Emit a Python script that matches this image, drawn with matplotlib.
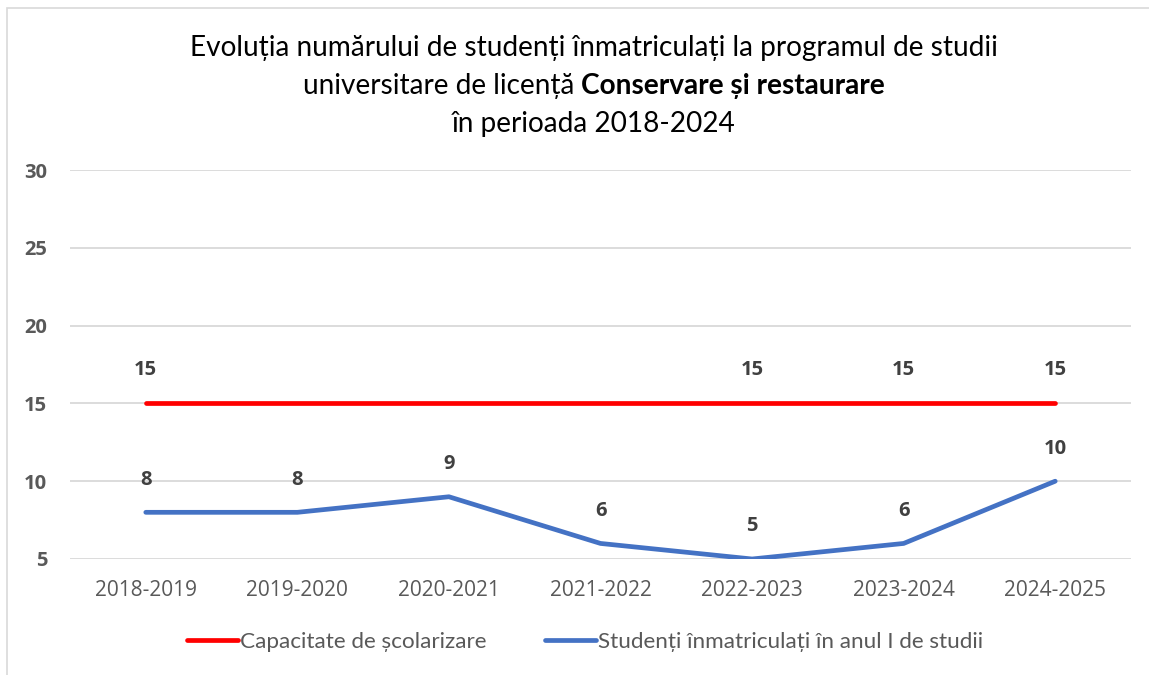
import matplotlib
matplotlib.use("Agg")
import matplotlib.pyplot as plt
from matplotlib.patches import Rectangle
from matplotlib.lines import Line2D

categories = ["2018-2019", "2019-2020", "2020-2021", "2021-2022", "2022-2023", "2023-2024", "2024-2025"]
capacity = [15, 15, 15, 15, 15, 15, 15]
students = [8, 8, 9, 6, 5, 6, 10]
capacity_labels_shown = [True, False, False, False, True, True, True]
series_names = ["Capacitate de școlarizare", "Studenți înmatriculați în anul I de studii"]
title_lines = ["Evoluția numărului de studenți înmatriculați la programul de studii",
               ("universitare de licență ", "Conservare și restaurare"),
               "în perioada 2018-2024"]
yticks = [5, 10, 15, 20, 25, 30]

RED = "#FF0000"
BLUE = "#4472C4"
GRID = "#D9D9D9"
TICK = "#595959"
LABEL = "#404040"

W, H = 1149, 675
fig = plt.figure(figsize=(W / 100, H / 100), dpi=100)
fig.patch.set_facecolor("white")

# chart frame
fig.add_artist(Rectangle((7 / W, -0.1), 1.2, 1 - 8 / H + 0.1, transform=fig.transFigure,
                         fill=False, edgecolor=GRID, linewidth=1.2))

ax = fig.add_axes([70 / W, 1 - 559 / H, 1061 / W, 389 / H])
ax.set_xlim(-0.5, len(categories) - 0.5)
ax.set_ylim(5, 30)
for s in ax.spines.values():
    s.set_visible(False)
ax.set_yticks(yticks)
ax.yaxis.grid(True, color=GRID, linewidth=1.3)
ax.set_axisbelow(True)
ax.tick_params(length=0)
ax.set_xticks(range(len(categories)))
ax.set_xticklabels(categories, fontfamily="Open Sans", fontsize=15, color=TICK)
ax.set_yticklabels([str(v) for v in yticks], fontfamily="Open Sans", fontsize=14.5,
                   fontweight="bold", color=TICK)
ax.tick_params(axis="y", pad=16.5)
ax.tick_params(axis="x", pad=15)

x = list(range(len(categories)))

ax.plot(x, capacity, color=RED, linewidth=3.4, solid_capstyle="round", zorder=3)
ax.plot(x, students, color=BLUE, linewidth=3.4, solid_capstyle="round",
        solid_joinstyle="round", zorder=3)

# data labels
for xi, v, show in zip(x, capacity, capacity_labels_shown):
    if show:
        ax.annotate(str(v), (xi, v), xytext=(0, 24), textcoords="offset points",
                    ha="center", va="center", fontfamily="Open Sans", fontsize=14.5,
                    fontweight="bold", color=LABEL)
for xi, v in zip(x, students):
    ax.annotate(str(v), (xi, v), xytext=(0, 23.5), textcoords="offset points",
                ha="center", va="center", fontfamily="Open Sans", fontsize=14.5,
                fontweight="bold", color=LABEL)

# legend
handles = [Line2D([0], [0], color=RED, linewidth=3.4, solid_capstyle="round"),
           Line2D([0], [0], color=BLUE, linewidth=3.4, solid_capstyle="round")]
leg = fig.legend(handles, series_names, loc="center", bbox_to_anchor=(585 / W, 1 - 642 / H),
                 ncol=2, frameon=False, handlelength=2.25, handletextpad=0.1,
                 columnspacing=2.6, prop={"family": ["Lato", "DejaVu Sans"], "size": 16.2})
for t in leg.get_texts():
    t.set_color(TICK)

# title
tfont = {"family": ["Lato", "DejaVu Sans"], "size": 20.2, "color": "black"}
cx = 594 / W
fig.text(cx, 1 - 48 / H, title_lines[0], ha="center", va="center", **tfont)
fig.text(cx, 1 - 124 / H, title_lines[2], ha="center", va="center", **tfont)
t1 = fig.text(0, 1 - 86 / H, title_lines[1][0], ha="left", va="center", **tfont)
t2 = fig.text(0, 1 - 86 / H, title_lines[1][1], ha="left", va="center", fontweight="bold", **tfont)
fig.canvas.draw()
r = fig.canvas.get_renderer()
w1 = t1.get_window_extent(r).width / W
w2 = t2.get_window_extent(r).width / W
start = cx - (w1 + w2) / 2
t1.set_x(start)
t2.set_x(start + w1)

fig.savefig("out.png", dpi=100)
